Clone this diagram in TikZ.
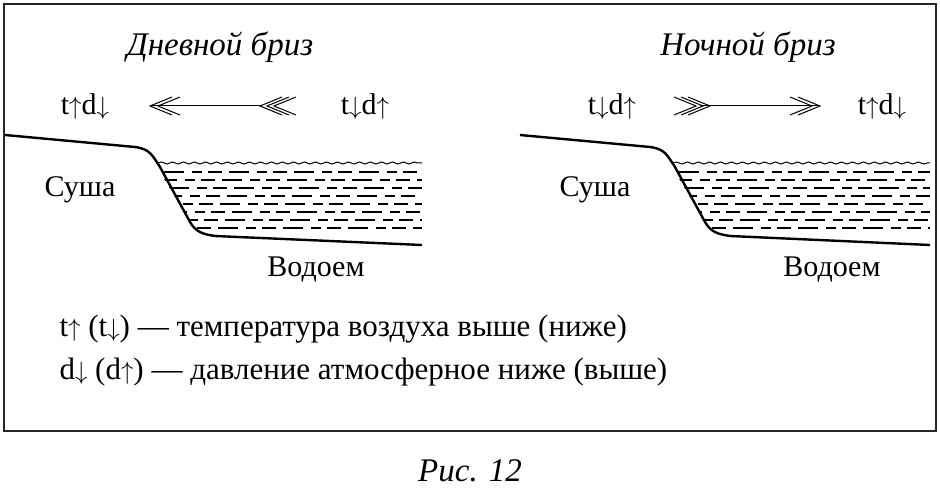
\documentclass[tikz,border=0pt]{standalone}
\usepackage{fontspec}
\setmainfont{Liberation Serif}
\usetikzlibrary{decorations.pathmorphing}
\begin{document}
\begin{tikzpicture}[x=1pt,y=-1pt,
  lbl/.style={font=\fontsize{30}{34}\selectfont},
  leg/.style={font=\fontsize{31}{34}\selectfont},
  ttl/.style={font=\itshape\fontsize{33}{36}\selectfont},
  ground/.style={line width=2.4pt,line join=round},
  dsh/.style={line width=1.1pt},
  chev/.style={line width=1pt}]
\useasboundingbox (0,0) rectangle (940,502);
\draw[line width=1.6pt,draw=black!85] (4,4) rectangle (936,431);
% titles
\node[ttl] (t1) at (220,47) {Дневной бриз};
\node[ttl] (t2) at (748,47) {Ночной бриз};
\node[lbl] (a1) at (85,107) {t$\uparrow$d$\downarrow$};
\node[lbl] (a2) at (365,107) {t$\downarrow$d$\uparrow$};
\node[lbl] (b1) at (612,107) {t$\downarrow$d$\uparrow$};
\node[lbl] (b2) at (882,107) {t$\uparrow$d$\downarrow$};
% left arrow
\coordinate (L1) at (150,106); \coordinate (L2) at (262,106);
\draw[chev] (L1) -- (L2);
\draw[chev] (172,97) -- (150,106) -- (172,115);
\draw[chev] (180,97) -- (158,106) -- (180,115);
\foreach \x in {260,267,274} \draw[chev] (\x+22,97) -- (\x,106) -- (\x+22,115);
% right arrow
\coordinate (R1) at (700,106); \coordinate (R2) at (820,106);
\draw[chev] (R1) -- (R2);
\draw[chev] (798,97) -- (820,106) -- (798,115);
\draw[chev] (790,97) -- (812,106) -- (790,115);
\foreach \x in {696,703,710} \draw[chev] (\x-22,97) -- (\x,106) -- (\x-22,115);
% panels
\foreach \ox/\ex in {0/422, 515/930} {
  \begin{scope}[xshift=\ox]
  \begin{scope}
    \clip (155,164) -- (\ex-\ox,164) -- (\ex-\ox,240) -- (210,236) -- (195,230) -- cycle;
    \foreach \y [count=\i] in {172,180,188,196,204,212,220,228} {
      \pgfmathsetmacro{\ph}{mod(\i*7,19)}
      \draw[dsh,dash pattern=on 14pt off 7pt on 20pt off 8pt on 10pt off 6pt,dash phase=\ph] (150,\y) -- (\ex-\ox,\y);
    }
  \end{scope}
  \draw[line width=1pt,decorate,decoration={snake,amplitude=1pt,segment length=11pt}] (158,163) -- (\ex-\ox,163);
  \draw[ground] (5,135) -- (135,147) .. controls (150,149) and (152,155) .. (160,167)
     -- (190,222) .. controls (196,232) and (202,234) .. (215,236) -- (\ex-\ox,245);
  \end{scope}
}
\node[lbl] (s1) at (80,190) {Суша};
\node[lbl] (s2) at (595,190) {Суша};
\node[lbl] (w1) at (316,270) {Водоем};
\node[lbl] (w2) at (832,270) {Водоем};
\node[leg,anchor=west] (g1) at (56,329) {t$\uparrow$ (t$\downarrow$) — температура воздуха выше (ниже)};
\node[leg,anchor=west] (g2) at (56,372) {d$\downarrow$ (d$\uparrow$) — давление атмосферное ниже (выше)};
\node[ttl] (cap) at (470,471) {Рис. 12};
\end{tikzpicture}
\end{document}
